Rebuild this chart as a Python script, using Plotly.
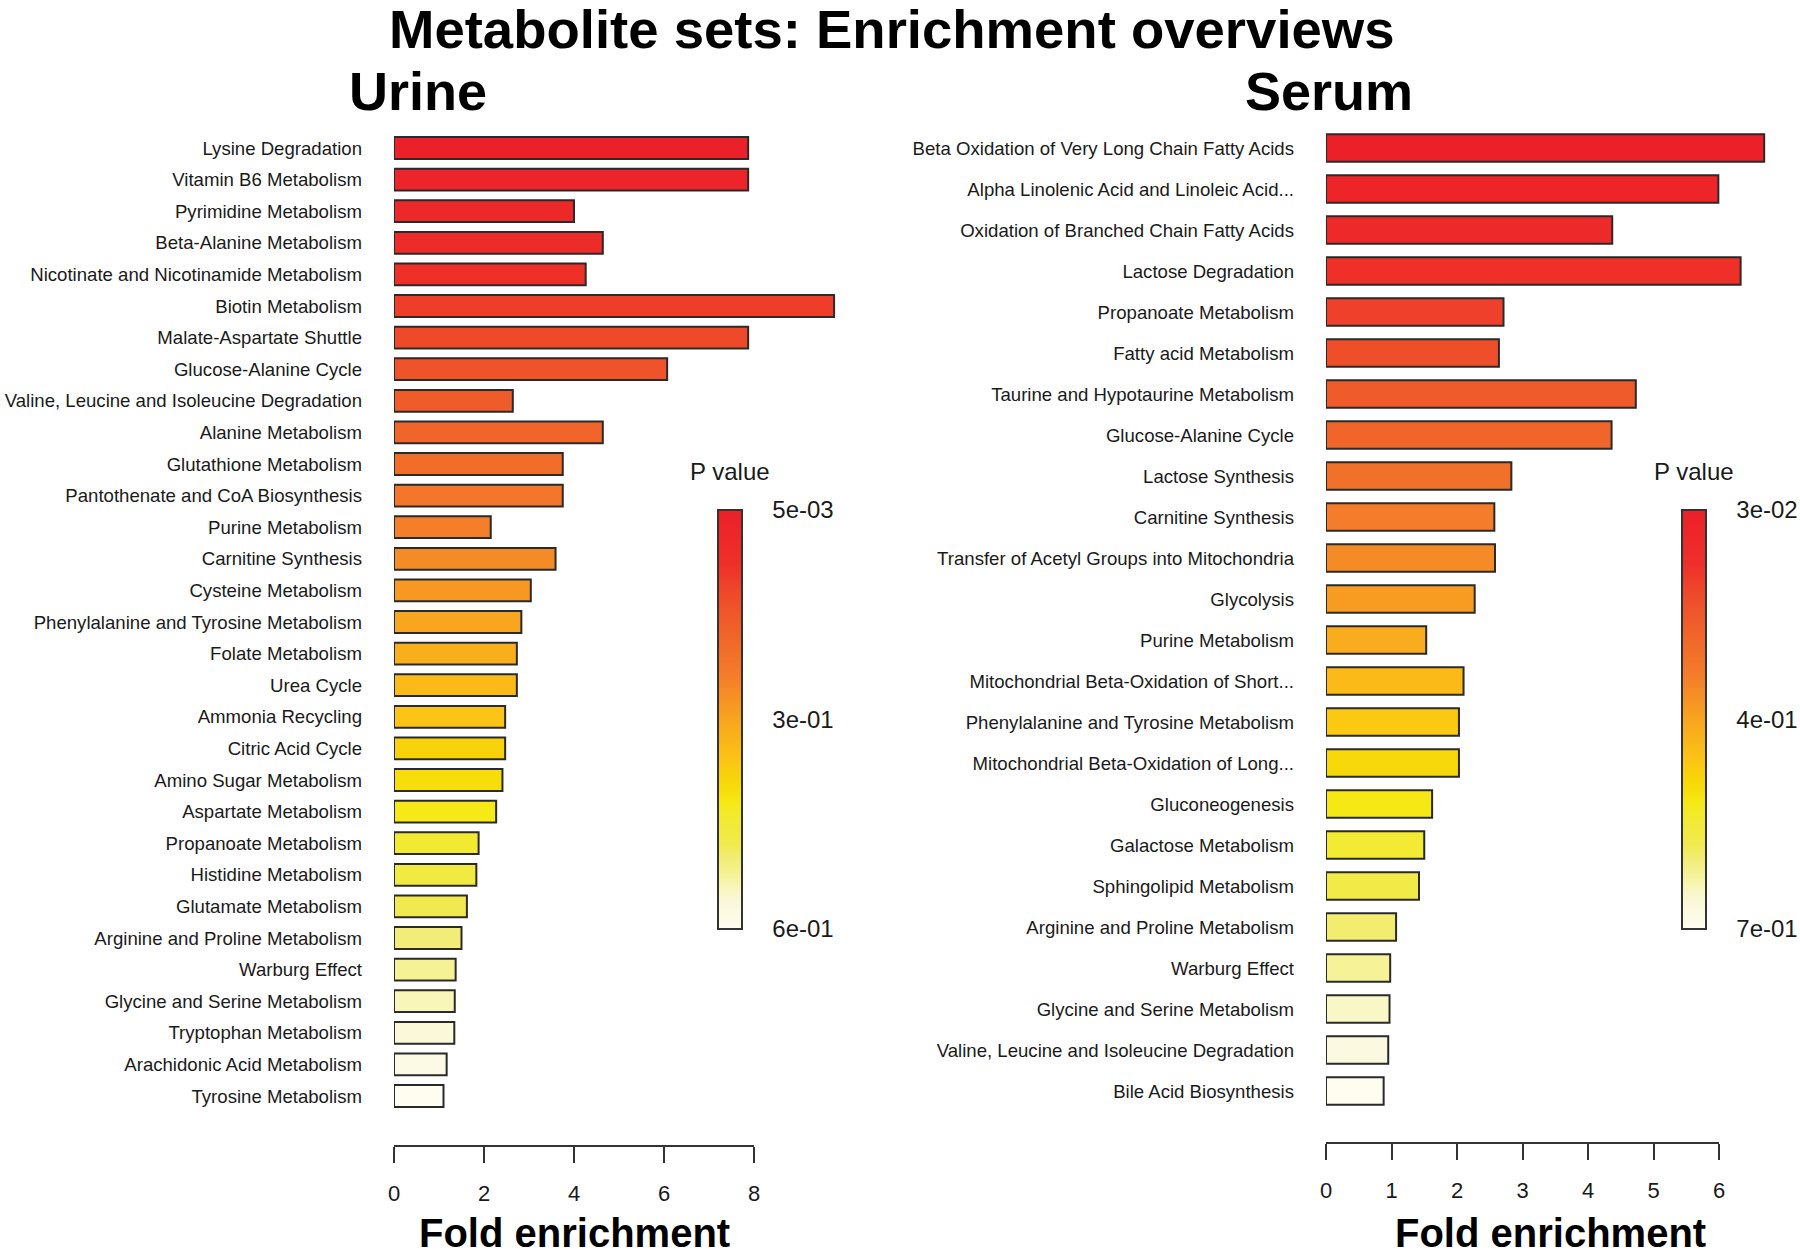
import plotly.graph_objects as go

W, H = 1800, 1256

# ---------------- data ----------------
urine_sets = [
    "Lysine Degradation", "Vitamin B6 Metabolism", "Pyrimidine Metabolism",
    "Beta-Alanine Metabolism", "Nicotinate and Nicotinamide Metabolism",
    "Biotin Metabolism", "Malate-Aspartate Shuttle", "Glucose-Alanine Cycle",
    "Valine, Leucine and Isoleucine Degradation", "Alanine Metabolism",
    "Glutathione Metabolism", "Pantothenate and CoA Biosynthesis",
    "Purine Metabolism", "Carnitine Synthesis", "Cysteine Metabolism",
    "Phenylalanine and Tyrosine Metabolism", "Folate Metabolism", "Urea Cycle",
    "Ammonia Recycling", "Citric Acid Cycle", "Amino Sugar Metabolism",
    "Aspartate Metabolism", "Propanoate Metabolism", "Histidine Metabolism",
    "Glutamate Metabolism", "Arginine and Proline Metabolism", "Warburg Effect",
    "Glycine and Serine Metabolism", "Tryptophan Metabolism",
    "Arachidonic Acid Metabolism", "Tyrosine Metabolism",
]
urine_fold = [7.87, 7.87, 4.00, 4.64, 4.26, 9.78, 7.87, 6.07, 2.64, 4.64,
              3.75, 3.75, 2.15, 3.59, 3.04, 2.83, 2.73, 2.73, 2.47, 2.47,
              2.41, 2.27, 1.88, 1.83, 1.62, 1.50, 1.37, 1.35, 1.34, 1.17, 1.10]
urine_p = [0.005, 0.025, 0.045, 0.064, 0.084, 0.104, 0.124, 0.144, 0.164, 0.184,
           0.203, 0.223, 0.243, 0.263, 0.283, 0.303, 0.322, 0.342, 0.362, 0.382,
           0.402, 0.422, 0.441, 0.461, 0.481, 0.501, 0.521, 0.541, 0.560, 0.580, 0.600]
urine_xticks = [0, 2, 4, 6, 8]
urine_cb_text = ["5e-03", "3e-01", "6e-01"]

serum_sets = [
    "Beta Oxidation of Very Long Chain Fatty Acids",
    "Alpha Linolenic Acid and Linoleic Acid...",
    "Oxidation of Branched Chain Fatty Acids", "Lactose Degradation",
    "Propanoate Metabolism", "Fatty acid Metabolism",
    "Taurine and Hypotaurine Metabolism", "Glucose-Alanine Cycle",
    "Lactose Synthesis", "Carnitine Synthesis",
    "Transfer of Acetyl Groups into Mitochondria", "Glycolysis",
    "Purine Metabolism", "Mitochondrial Beta-Oxidation of Short...",
    "Phenylalanine and Tyrosine Metabolism",
    "Mitochondrial Beta-Oxidation of Long...", "Gluconeogenesis",
    "Galactose Metabolism", "Sphingolipid Metabolism",
    "Arginine and Proline Metabolism", "Warburg Effect",
    "Glycine and Serine Metabolism",
    "Valine, Leucine and Isoleucine Degradation", "Bile Acid Biosynthesis",
]
serum_fold = [6.69, 5.99, 4.37, 6.33, 2.71, 2.64, 4.73, 4.36, 2.83, 2.57,
              2.58, 2.27, 1.53, 2.10, 2.03, 2.03, 1.62, 1.50, 1.42, 1.07,
              0.98, 0.97, 0.95, 0.88]
serum_p = [0.030, 0.059, 0.088, 0.117, 0.147, 0.176, 0.205, 0.234, 0.263, 0.292,
           0.321, 0.350, 0.380, 0.409, 0.438, 0.467, 0.496, 0.525, 0.554, 0.583,
           0.613, 0.642, 0.671, 0.700]
serum_xticks = [0, 1, 2, 3, 4, 5, 6]
serum_cb_text = ["3e-02", "4e-01", "7e-01"]

# heat-like colour ramp (bottom = high p / white, top = low p / red)
heat_scale = [
    [0.000, "#FEFDF0"], [0.067, "#FAF8D8"], [0.100, "#F8F6B8"], [0.133, "#F5F295"],
    [0.167, "#F2ED78"], [0.200, "#F0EA50"], [0.267, "#F2EA30"], [0.300, "#F5EA15"],
    [0.333, "#F7DD0A"], [0.367, "#F8D20A"], [0.400, "#FCC515"], [0.500, "#F8A51F"],
    [0.600, "#F47E2A"], [0.700, "#F0652A"], [0.800, "#EE4A2A"], [0.867, "#EE3029"],
    [1.000, "#EC2029"],
]

FONT = "Liberation Sans, Arial, Helvetica, sans-serif"
TXT = "#1a1a1a"


def px(x):
    return x / W


def py(y):
    return 1 - y / H


fig = go.Figure()

panels = [
    dict(sets=urine_sets, fold=urine_fold, p=urine_p, xticks=urine_xticks, cbtext=urine_cb_text,
         x0=394, xscale=45.0, xright=842, ytop=125, ybot=1146, first=148, step=31.6, bw=0.69,
         cbx=717.7, pval_x=730, title="Urine", title_x=418, fold_x=574,
         xa="x", ya="y", ca="coloraxis"),
    dict(sets=serum_sets, fold=serum_fold, p=serum_p, xticks=serum_xticks, cbtext=serum_cb_text,
         x0=1326, xscale=65.5, xright=1770, ytop=123, ybot=1143, first=148, step=41.0, bw=0.67,
         cbx=1681.7, pval_x=1694, title="Serum", title_x=1329, fold_x=1550,
         xa="x2", ya="y2", ca="coloraxis2"),
]

layout_extra = {}
shapes = []
annotations = []
for i, pn in enumerate(panels):
    sfx = "" if i == 0 else "2"
    pmin, pmax = min(pn["p"]), max(pn["p"])
    fig.add_trace(go.Bar(
        x=pn["fold"], y=pn["sets"], orientation="h", width=pn["bw"],
        marker=dict(color=[-v for v in pn["p"]], coloraxis=pn["ca"],
                    line=dict(color="#2a2a2a", width=2)),
        xaxis=pn["xa"], yaxis=pn["ya"], showlegend=False,
        hovertemplate="%{y}<br>Fold enrichment: %{x}<extra></extra>",
    ))
    layout_extra["xaxis" + sfx] = dict(
        domain=[px(pn["x0"]), px(pn["xright"])],
        range=[0, (pn["xright"] - pn["x0"]) / pn["xscale"]],
        anchor="y" + sfx, tickvals=pn["xticks"], ticks="outside", ticklen=16,
        tickwidth=2, tickcolor="#333", showline=False, showgrid=False,
        zeroline=False, tickfont=dict(size=22, color=TXT, family=FONT),
        ticklabelstandoff=12,
    )
    layout_extra["yaxis" + sfx] = dict(
        domain=[py(pn["ybot"]), py(pn["ytop"])],
        range=[(pn["ybot"] - pn["first"]) / pn["step"], -(pn["first"] - pn["ytop"]) / pn["step"]],
        anchor="x" + sfx, type="category", categoryorder="array", categoryarray=pn["sets"],
        ticks="", showgrid=False, zeroline=False, showline=False,
        tickfont=dict(size=18.6, color=TXT, family=FONT), ticklabelstandoff=31,
    )
    layout_extra[pn["ca"]] = dict(
        cmin=-pmax, cmax=-pmin, colorscale=heat_scale,
        colorbar=dict(
            x=px(pn["cbx"]), xanchor="left", xpad=0,
            y=py(510), yanchor="top", ypad=0,
            lenmode="pixels", len=419, thicknessmode="pixels", thickness=24,
            outlinewidth=2, outlinecolor="#333",
            tickvals=[-pmin, -(pmin + pmax) / 2, -pmax], ticktext=pn["cbtext"],
            ticks="outside", ticklen=25, tickcolor="rgba(0,0,0,0)",
            tickfont=dict(size=24, color=TXT, family=FONT),
        ),
    )
    # axis line spanning the tick range only (R-style)
    shapes.append(dict(type="line", xref=pn["xa"], yref="paper",
                       x0=pn["xticks"][0], x1=pn["xticks"][-1],
                       y0=py(pn["ybot"]), y1=py(pn["ybot"]),
                       line=dict(color="#333", width=2)))
    annotations += [
        dict(text="<b>" + pn["title"] + "</b>", x=px(pn["title_x"]), y=py(90.5),
             xref="paper", yref="paper", showarrow=False, xanchor="center", yanchor="middle",
             font=dict(size=54, color="#000", family=FONT)),
        dict(text="<b>Fold enrichment</b>", x=px(pn["fold_x"]), y=py(1233),
             xref="paper", yref="paper", showarrow=False, xanchor="center", yanchor="middle",
             font=dict(size=40, color="#000", family=FONT)),
        dict(text="P value", x=px(pn["pval_x"]), y=py(471.5),
             xref="paper", yref="paper", showarrow=False, xanchor="center", yanchor="middle",
             font=dict(size=24, color=TXT, family=FONT)),
    ]

annotations.append(dict(
    text="<b>Metabolite sets: Enrichment overviews</b>", x=px(892), y=py(29.5),
    xref="paper", yref="paper", showarrow=False, xanchor="center", yanchor="middle",
    font=dict(size=54.5, color="#000", family=FONT)))

fig.update_layout(
    width=W, height=H, template="none",
    margin=dict(l=0, r=0, t=0, b=0),
    paper_bgcolor="white", plot_bgcolor="white",
    font=dict(family=FONT, color=TXT),
    bargap=0.33, showlegend=False,
    shapes=shapes, annotations=annotations,
    **layout_extra,
)

# place the figure flush with the page corner (no default body margin)
fig.write_html("out.html", config={"displayModeBar": False},
               post_script="document.body.style.margin='0';document.body.style.padding='0';")
